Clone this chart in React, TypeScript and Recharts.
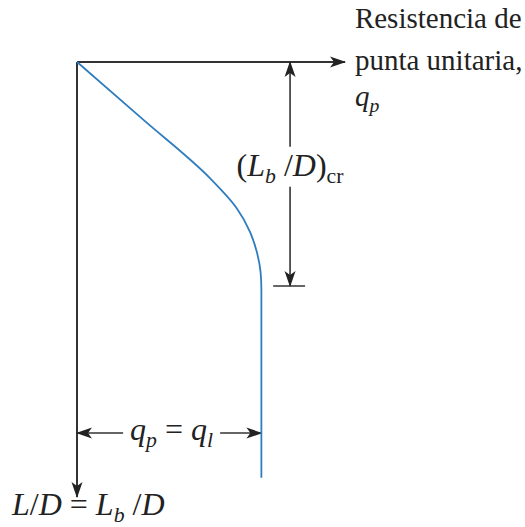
import { LineChart, Line, XAxis, YAxis, ReferenceLine, ReferenceDot } from 'recharts';

// L/D (depth ratio, grows downward) and unit point resistance q_p
const depthRatio = [0, 13.2, 26.7, 33.6, 39.1, 43.7, 48.3, 52.4, 95.6];
const pointResistance = [0, 24.6, 49.6, 59.6, 64.6, 67.1, 68.5, 68.8, 68.8];

const curveData = depthRatio.map((ld, i) => ({ ld, qp: pointResistance[i] }));

// annotation anchors (data units)
const limitQ = 68.8; // q_l
const critDepth = 51.5; // (Lb/D)cr
const dimX = 79.5; // where the (Lb/D)cr dimension line sits
const dimGapTop = 19.5;
const dimGapBottom = 28.7;
const limitArrowDepth = 85.3;
const limitGapLeft = 17.2;
const limitGapRight = 53.4;

const INK = '#333333';
const BLUE = '#2f7dbf';
const FONT = '"Liberation Serif", "DejaVu Serif", serif';
const TEXT_SIZE = 29;
const MATH_SIZE = 32;

type Piece = { text: string; italic?: boolean; sub?: boolean };

function pieces(parts: Piece[], size: number) {
  let shift = 0;
  return parts.map((p, i) => {
    const target = p.sub ? size * 0.22 : 0;
    const dy = target - shift;
    shift = target;
    return (
      <tspan
        key={i}
        dy={dy}
        fontStyle={p.italic ? 'italic' : 'normal'}
        fontSize={p.sub ? size * 0.68 : size}
      >
        {p.text}
      </tspan>
    );
  });
}

function textAt(
  parts: Piece[],
  dx: number,
  dy: number,
  anchor: 'start' | 'middle' | 'end' = 'start',
  size = MATH_SIZE
) {
  return (props: any) => {
    const vb = props.viewBox || {};
    return (
      <text
        x={vb.x + dx}
        y={vb.y + dy}
        textAnchor={anchor}
        fontFamily={FONT}
        fontSize={size}
        fill="#222"
      >
        {pieces(parts, size)}
      </text>
    );
  };
}

const critLabel: Piece[] = [
  { text: '(' },
  { text: 'L', italic: true },
  { text: 'b', italic: true, sub: true },
  { text: ' /' },
  { text: 'D', italic: true },
  { text: ')' },
  { text: 'cr', sub: true },
];

const limitLabel: Piece[] = [
  { text: 'q', italic: true },
  { text: 'p', italic: true, sub: true },
  { text: ' = ' },
  { text: 'q', italic: true },
  { text: 'l', italic: true, sub: true },
];

const depthLabel: Piece[] = [
  { text: 'L', italic: true },
  { text: '/' },
  { text: 'D', italic: true },
  { text: ' = ' },
  { text: 'L', italic: true },
  { text: 'b', italic: true, sub: true },
  { text: ' /' },
  { text: 'D', italic: true },
];

export default function App() {
  return (
    <div style={{ position: 'absolute', left: 0, top: 0, width: 525, height: 527, background: '#fff' }}>
      <LineChart
        width={525}
        height={527}
        data={curveData}
        layout="vertical"
        margin={{ top: 62, right: 180, bottom: 30, left: 77 }}
      >
        <defs>
          <marker
            id="arrowHead"
            viewBox="0 0 16 12"
            refX="15"
            refY="6"
            markerWidth="16"
            markerHeight="12"
            markerUnits="userSpaceOnUse"
            orient="auto-start-reverse"
          >
            <path d="M0,0.5 L16,6 L0,11.5 L4,6 Z" fill="#222" />
          </marker>
        </defs>
        <XAxis type="number" domain={[0, 100]} hide />
        <YAxis type="number" dataKey="ld" domain={[0, 100]} hide />

        {/* axes with arrow heads */}
        <ReferenceLine
          segment={[{ x: 0, y: 0 }, { x: 100, y: 0 }]}
          stroke={INK}
          strokeWidth={2}
          ifOverflow="visible"
          markerEnd="url(#arrowHead)"
        />
        <ReferenceLine
          segment={[{ x: 0, y: 0 }, { x: 0, y: 100 }]}
          stroke={INK}
          strokeWidth={2}
          ifOverflow="visible"
          markerEnd="url(#arrowHead)"
        />

        {/* (Lb/D)cr dimension */}
        <ReferenceLine
          segment={[{ x: dimX, y: 0 }, { x: dimX, y: dimGapTop }]}
          stroke={INK}
          strokeWidth={1.6}
          markerStart="url(#arrowHead)"
        />
        <ReferenceLine
          segment={[{ x: dimX, y: dimGapBottom }, { x: dimX, y: critDepth }]}
          stroke={INK}
          strokeWidth={1.6}
          markerEnd="url(#arrowHead)"
        />
        <ReferenceLine
          segment={[{ x: dimX - 6.3, y: critDepth }, { x: dimX + 5.6, y: critDepth }]}
          stroke={INK}
          strokeWidth={1.6}
        />

        {/* q_p = q_l dimension */}
        <ReferenceLine
          segment={[{ x: 0, y: limitArrowDepth }, { x: limitGapLeft, y: limitArrowDepth }]}
          stroke={INK}
          strokeWidth={1.6}
          markerStart="url(#arrowHead)"
        />
        <ReferenceLine
          segment={[{ x: limitGapRight, y: limitArrowDepth }, { x: limitQ, y: limitArrowDepth }]}
          stroke={INK}
          strokeWidth={1.6}
          markerEnd="url(#arrowHead)"
        />

        <Line
          dataKey="qp"
          type="monotone"
          stroke={BLUE}
          strokeWidth={1.8}
          dot={false}
          activeDot={false}
          isAnimationActive={false}
        />

        <ReferenceDot
          x={dimX}
          y={(dimGapTop + dimGapBottom) / 2}
          r={0}
          fill="none"
          stroke="none"
          ifOverflow="visible"
          label={{ content: textAt(critLabel, 0, 9, 'middle') }}
        />
        <ReferenceDot
          x={(limitGapLeft + limitGapRight) / 2}
          y={limitArrowDepth}
          r={0}
          fill="none"
          stroke="none"
          ifOverflow="visible"
          label={{ content: textAt(limitLabel, 0, 7, 'middle') }}
        />
        <ReferenceDot
          x={103.7}
          y={0}
          r={0}
          fill="none"
          stroke="none"
          ifOverflow="visible"
          label={{ content: textAt([{ text: 'Resistencia de' }], 0, -34, 'start', TEXT_SIZE) }}
        />
        <ReferenceDot
          x={103.7}
          y={0}
          r={0}
          fill="none"
          stroke="none"
          ifOverflow="visible"
          label={{ content: textAt([{ text: 'punta unitaria,' }], 0, 8, 'start', TEXT_SIZE) }}
        />
        <ReferenceDot
          x={103.7}
          y={0}
          r={0}
          fill="none"
          stroke="none"
          ifOverflow="visible"
          label={{
            content: textAt(
              [
                { text: 'q', italic: true },
                { text: 'p', italic: true, sub: true },
              ],
              0,
              44,
              'start',
              TEXT_SIZE
            ),
          }}
        />
        <ReferenceDot
          x={0}
          y={100}
          r={0}
          fill="none"
          stroke="none"
          ifOverflow="visible"
          label={{ content: textAt(depthLabel, -65, 18) }}
        />
      </LineChart>
    </div>
  );
}
